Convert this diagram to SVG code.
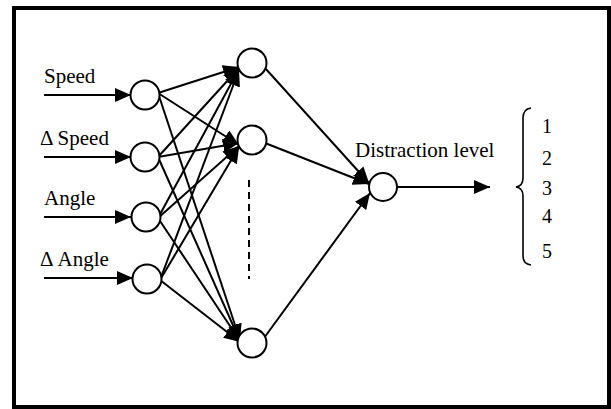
<svg xmlns="http://www.w3.org/2000/svg" width="611" height="409" viewBox="0 0 611 409">
<defs>
<marker id="ah" markerUnits="userSpaceOnUse" markerWidth="17" markerHeight="15" refX="16" refY="7" orient="auto">
<path d="M0,0 L16,7 L0,14 z" fill="#000"/>
</marker>
<style>
.lbl{font-family:"Liberation Serif","Times New Roman",serif;font-size:21px;fill:#000}
.num{font-family:"Liberation Serif","Times New Roman",serif;font-size:20px;fill:#000}
.nd{fill:#fff;stroke:#000;stroke-width:2}
.cn line{stroke:#000;stroke-width:2;marker-end:url(#ah)}
</style>
</defs>
<rect x="14" y="8" width="595" height="399" fill="#fff" stroke="#000" stroke-width="4"/>
<g id="connectors" class="cn">
<line x1="44" y1="95" x2="131" y2="95"/>
<line x1="44" y1="157" x2="131" y2="157"/>
<line x1="44" y1="217" x2="131" y2="217"/>
<line x1="44" y1="278" x2="133" y2="278"/>
<line x1="158" y1="93" x2="239" y2="67"/>
<line x1="158" y1="93" x2="239" y2="145"/>
<line x1="158" y1="93" x2="240" y2="340"/>
<line x1="158" y1="157" x2="239" y2="68"/>
<line x1="158" y1="157" x2="239" y2="143"/>
<line x1="158" y1="157" x2="240" y2="341"/>
<line x1="158" y1="218" x2="239" y2="69"/>
<line x1="158" y1="218" x2="239" y2="146"/>
<line x1="158" y1="218" x2="240" y2="341"/>
<line x1="160" y1="280" x2="239" y2="70"/>
<line x1="160" y1="280" x2="239" y2="147"/>
<line x1="160" y1="280" x2="240" y2="342"/>
<line x1="265" y1="68" x2="369" y2="183"/>
<line x1="265" y1="143" x2="369" y2="184"/>
<line x1="264" y1="338" x2="370" y2="193"/>
<line x1="397" y1="187" x2="490" y2="187"/>
<line x1="249" y1="180" x2="249" y2="279" style="marker-end:none;stroke-dasharray:7 5"/>
</g>
<g id="in-speed"><circle class="nd" cx="145" cy="95" r="14.5"/><text class="lbl" x="44" y="83">Speed</text></g>
<g id="in-dspeed"><circle class="nd" cx="145" cy="157" r="14.5"/><text class="lbl" x="40" y="145">Δ Speed</text></g>
<g id="in-angle"><circle class="nd" cx="146" cy="217" r="14.5"/><text class="lbl" x="44" y="205">Angle</text></g>
<g id="in-dangle"><circle class="nd" cx="147" cy="279" r="14.5"/><text class="lbl" x="40" y="266">Δ Angle</text></g>
<g id="h1"><circle class="nd" cx="252" cy="63" r="14.5"/></g>
<g id="h2"><circle class="nd" cx="252" cy="140" r="14.5"/></g>
<g id="h3"><circle class="nd" cx="252" cy="343" r="14.5"/></g>
<g id="out"><circle class="nd" cx="383" cy="187" r="14"/><text class="lbl" x="355" y="157">Distraction level</text></g>
<g id="levels">
<path d="M531,108 Q523,109 523,118 L523,178 Q523,186 516,187 Q523,188 523,196 L523,256 Q523,264 531,265" fill="none" stroke="#000" stroke-width="1.6"/>
<text class="num" x="542" y="133">1</text>
<text class="num" x="542" y="165">2</text>
<text class="num" x="542" y="195">3</text>
<text class="num" x="542" y="223">4</text>
<text class="num" x="542" y="258">5</text>
</g>
</svg>
